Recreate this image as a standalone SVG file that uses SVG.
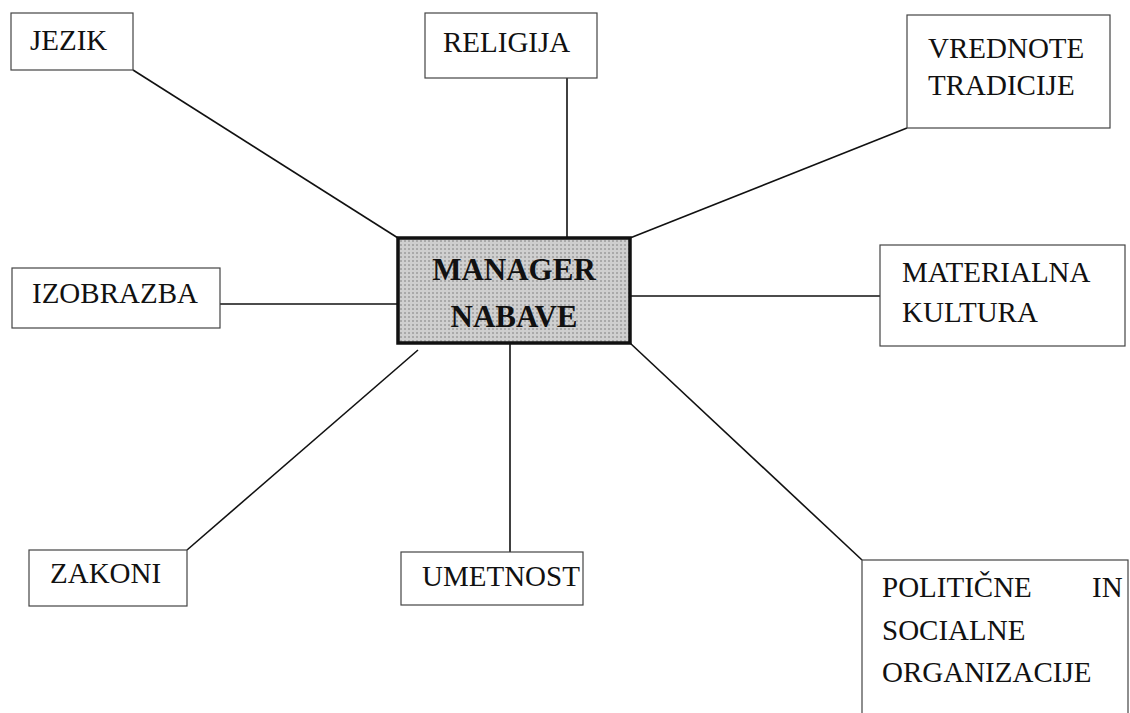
<svg xmlns="http://www.w3.org/2000/svg" width="1130" height="713" viewBox="0 0 1130 713">
<style>
.box{fill:#fff;stroke:#444;stroke-width:1.2}
.t{font-family:'Liberation Serif','Times New Roman',Times,'DejaVu Serif',serif;font-size:29px;fill:#111}
.c{font-family:'Liberation Serif','Times New Roman',Times,'DejaVu Serif',serif;font-size:31px;font-weight:bold;fill:#111;text-anchor:middle}
.ln{stroke:#111;stroke-width:1.6;fill:none}
</style>
<defs>
<pattern id="dots" width="4" height="4" patternUnits="userSpaceOnUse">
<rect width="4" height="4" fill="#cfcfcf"/>
<rect width="2" height="2" fill="#a9a9a9"/>
</pattern>
</defs>
<rect width="1130" height="713" fill="#fff"/>
<g id="connectors">
<line class="ln" x1="133" y1="70" x2="398" y2="238"/>
<line class="ln" x1="567" y1="78" x2="567" y2="238"/>
<line class="ln" x1="907" y1="128" x2="630" y2="238"/>
<line class="ln" x1="205" y1="304" x2="398" y2="304"/>
<line class="ln" x1="630" y1="296" x2="880" y2="296"/>
<line class="ln" x1="187" y1="550" x2="418" y2="350"/>
<line class="ln" x1="510" y1="343" x2="510" y2="552"/>
<line class="ln" x1="630" y1="343" x2="862" y2="560"/>
</g>
<g id="jezik"><rect class="box" x="11" y="13" width="122" height="57"/><text class="t" x="30" y="50">JEZIK</text></g>
<g id="religija"><rect class="box" x="425" y="13" width="172" height="65"/><text class="t" x="443" y="52">RELIGIJA</text></g>
<g id="vrednote"><rect class="box" x="907" y="15" width="203" height="113"/><text class="t" x="928" y="58">VREDNOTE</text><text class="t" x="928" y="95">TRADICIJE</text></g>
<g id="izobrazba"><rect class="box" x="12" y="268" width="208" height="60"/><text class="t" x="32" y="303">IZOBRAZBA</text></g>
<g id="materialna"><rect class="box" x="880" y="245" width="245" height="101"/><text class="t" x="902" y="282">MATERIALNA</text><text class="t" x="902" y="322">KULTURA</text></g>
<g id="manager"><rect x="398" y="238" width="232" height="105" fill="url(#dots)" stroke="#111" stroke-width="3.5"/><text class="c" x="514" y="280">MANAGER</text><text class="c" x="514" y="327">NABAVE</text></g>
<g id="zakoni"><rect class="box" x="29" y="550" width="158" height="56"/><text class="t" x="50" y="583">ZAKONI</text></g>
<g id="umetnost"><rect class="box" x="401" y="552" width="182" height="53"/><text class="t" x="422" y="586">UMETNOST</text></g>
<g id="politicne"><rect class="box" x="862" y="560" width="266" height="160"/><text class="t" y="597"><tspan x="882">POLITIČNE</tspan><tspan x="1092">IN</tspan></text><text class="t" x="882" y="640">SOCIALNE</text><text class="t" x="882" y="682">ORGANIZACIJE</text></g>
</svg>
